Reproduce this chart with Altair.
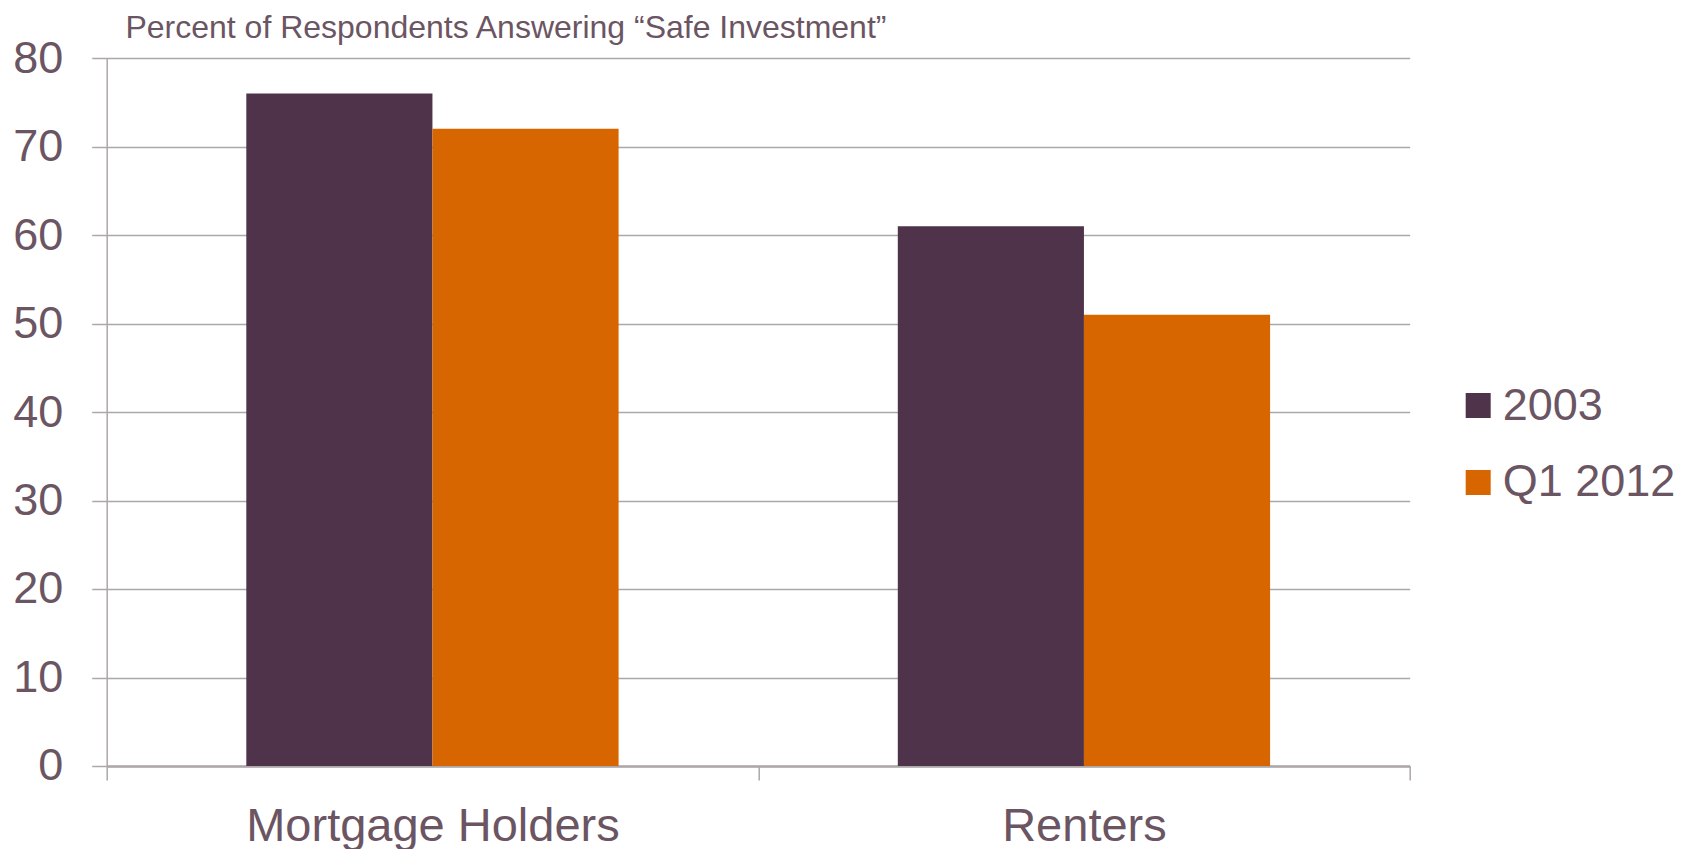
import altair as alt
import pandas as pd

categories = ["Mortgage Holders", "Renters"]
series = ["2003", "Q1 2012"]
values_2003 = [76, 61]
values_q1_2012 = [72, 51]
y_ticks = [0, 10, 20, 30, 40, 50, 60, 70, 80]
colors = ["#4F334A", "#D76500"]
title_text = "Percent of Respondents Answering “Safe Investment”"

rows = []
for i, c in enumerate(categories):
    rows.append({"category": c, "series": series[0], "value": values_2003[i]})
    rows.append({"category": c, "series": series[1], "value": values_q1_2012[i]})
df = pd.DataFrame(rows)

TEXT = "#6B5563"
GRID = "#ADA7AA"
FONT = "Liberation Sans"

chart = alt.Chart(df).mark_bar().encode(
    x=alt.X("category:N", sort=categories,
            scale=alt.Scale(paddingInner=0, paddingOuter=0),
            axis=alt.Axis(title=None, labelAngle=0, labelFontSize=47, labelColor=TEXT,
                          labelFont=FONT, labelPadding=24, labelLimit=800, tickSize=14,
                          tickColor=GRID, tickWidth=1.5, tickBand="extent",
                          domainColor=GRID, domainWidth=2.5, grid=False)),
    xOffset=alt.XOffset("series:N", sort=series,
                        scale=alt.Scale(paddingInner=0, paddingOuter=0.75)),
    y=alt.Y("value:Q", scale=alt.Scale(domain=[0, 80], nice=False),
            axis=alt.Axis(title=title_text, titleAngle=0, titleX=18.3, titleY=-20.6,
                          titleAlign="left", titleBaseline="alphabetic",
                          titleFontSize=32, titleFont=FONT, titleColor=TEXT,
                          titleFontWeight="normal", titleLimit=1200,
                          values=y_ticks, labelFontSize=45, labelColor=TEXT,
                          labelFont=FONT, labelPadding=29, tickSize=15, tickColor=GRID,
                          tickWidth=1.5, domainColor=GRID, domainWidth=1.5,
                          grid=True, gridColor=GRID, gridWidth=1.5)),
    color=alt.Color("series:N", sort=series,
                    scale=alt.Scale(domain=series, range=colors),
                    legend=alt.Legend(title=None, orient="none", legendX=1349, legendY=325,
                                      padding=0, symbolType="square", symbolSize=625,
                                      symbolStrokeWidth=0, labelFontSize=45,
                                      labelColor=TEXT, labelFont=FONT, labelOffset=2,
                                      rowPadding=31, labelLimit=400)),
).properties(
    width=1303,
    height=708,
    autosize=alt.AutoSizeParams(type="none"),
    padding={"left": 98.7, "top": 50, "right": 270, "bottom": 83},
).configure_view(stroke=None)

chart.save("out.html", embed_options={"renderer": "svg", "actions": False})
